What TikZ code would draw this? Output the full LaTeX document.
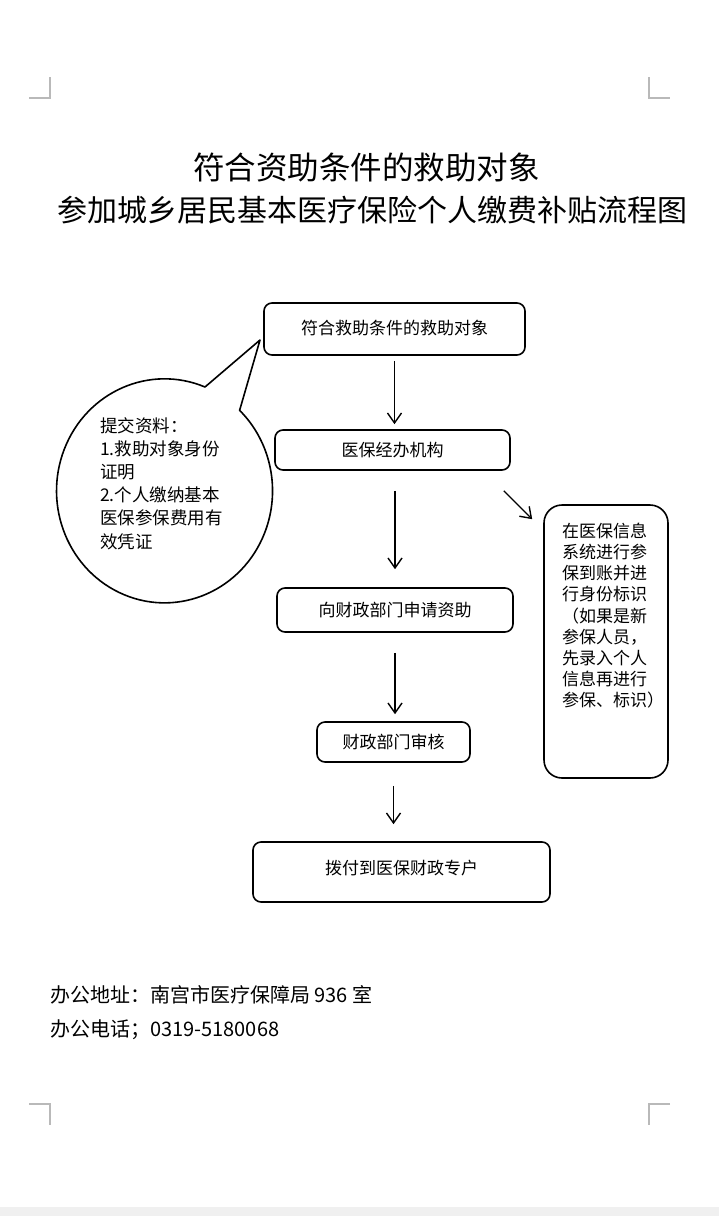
\documentclass[tikz,border=0pt]{standalone}
\usepackage{fontspec}
\setmainfont{Noto Sans CJK SC}
\usetikzlibrary{arrows.meta}

\begin{document}
\begin{tikzpicture}[x=1pt,y=-1pt,
  stepbox/.style={draw,line width=1.6pt,rounded corners=8pt,inner sep=0pt,font=\fontsize{17}{21}\selectfont},
  arr/.style={line width=1.4pt,-{Straight Barb[length=10pt,width=14pt,line width=1.4pt]}},
  cropmark/.style={draw=gray!55,line width=1.4pt}]
\useasboundingbox (0,0) rectangle (719,1216);
\fill[gray!12] (0,1207) rectangle (719,1216);

% corner marks
\draw[cropmark] (50,77) -- (50,98) -- (29,98);
\draw[cropmark] (649,77) -- (649,98) -- (670,98);
\draw[cropmark] (29,1104) -- (50,1104) -- (50,1125);
\draw[cropmark] (670,1104) -- (649,1104) -- (649,1125);

% title
\node[font=\fontsize{31.5}{36}\selectfont] (t1) at (366.5,167) {符合资助条件的救助对象};
\node[font=\fontsize{30}{36}\selectfont] (t2) at (372.5,210) {参加城乡居民基本医疗保险个人缴费补贴流程图};

% flow
\node[stepbox,minimum width=261pt,minimum height=52pt] (n1) at (394.5,329) {\raisebox{3pt}{符合救助条件的救助对象}};
\node[stepbox,minimum width=235pt,minimum height=40pt] (n2) at (392.5,450) {医保经办机构};
\node[stepbox,minimum width=236pt,minimum height=44pt] (n3) at (395,610) {向财政部门申请资助};
\node[stepbox,minimum width=153pt,minimum height=40pt] (n4) at (393.5,742) {财政部门审核};
\node[stepbox,minimum width=297pt,minimum height=60pt] (n5) at (401.5,872) {\raisebox{9pt}{拨付到医保财政专户}};
\node[stepbox,rounded corners=18pt,minimum width=124pt,minimum height=273pt] (side) at (606,641.5) {};
\node[font=\fontsize{17}{21.1}\selectfont,align=left,anchor=north west,inner sep=0pt] (sidetxt) at (562,523) {在医保信息\\系统进行参\\保到账并进\\行身份标识\\（如果是新\\参保人员，\\先录入个人\\信息再进行\\参保、标识）};

\draw[arr,shorten <=5pt,shorten >=5pt] (n1.south) -- (n1.south |- n2.north);
\draw[arr,shorten <=20pt,shorten >=18pt] (n3.north |- n2.south) -- (n3.north);
\draw[arr,shorten <=20pt,shorten >=7pt] (n3.south) -- (n3.south |- n4.north);
\draw[arr,shorten <=23pt,shorten >=17pt] (n4.south) -- (n4.south |- n5.north);
\draw[arr] ([shift={(-7,20)}]n2.south east) -- ([shift={(-11,15)}]side.north west);

% callout
\draw[line width=1.6pt,line join=round] (240,409) -- (260,340) -- (205,387)
  arc[start angle=-68,end angle=-406,x radius=108,y radius=112] -- cycle;
\node[font=\fontsize{17.5}{23.2}\selectfont,align=left,anchor=north west,inner sep=0pt] (note) at (100,417) {提交资料：\\1.救助对象身份\\证明\\2.个人缴纳基本\\医保参保费用有\\效凭证};

% contact
\node[font=\fontsize{20}{24}\selectfont,anchor=west,inner sep=0pt] (addr) at (50,995) {办公地址：南宫市医疗保障局 936 室};
\node[font=\fontsize{20}{24}\selectfont,anchor=west,inner sep=0pt] (tel) at (50,1030) {办公电话；0319-5180068};
\end{tikzpicture}
\end{document}
